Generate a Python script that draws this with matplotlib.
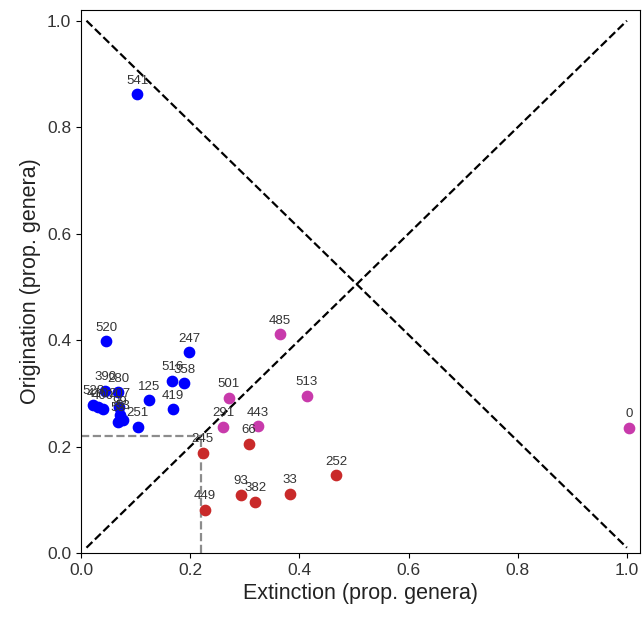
import matplotlib
matplotlib.use('Agg')
import matplotlib.pyplot as plt

plt.rcParams['font.family'] = ['Liberation Sans', 'DejaVu Sans']

# blue group
blue_x = [0.103, 0.046, 0.198, 0.167, 0.189, 0.125, 0.168, 0.104,
          0.022, 0.031, 0.040, 0.044, 0.068, 0.070, 0.071, 0.068, 0.077]
blue_y = [0.862, 0.398, 0.377, 0.323, 0.319, 0.287, 0.270, 0.237,
          0.278, 0.274, 0.270, 0.305, 0.302, 0.274, 0.259, 0.246, 0.250]
blue_lab = ['541', '520', '247', '516', '358', '125', '419', '251',
            '528', '410', '400', '390', '280', '207', '99', '58', '53']

# magenta group
mag_x = [0.364, 0.414, 0.271, 0.260, 0.324, 1.004]
mag_y = [0.411, 0.295, 0.291, 0.237, 0.238, 0.235]
mag_lab = ['485', '513', '501', '291', '443', '0']

# red group
red_x = [0.308, 0.223, 0.227, 0.293, 0.319, 0.383, 0.467]
red_y = [0.205, 0.188, 0.081, 0.109, 0.096, 0.111, 0.146]
red_lab = ['66', '245', '449', '93', '382', '33', '252']

thresh = 0.22

fig = plt.figure(figsize=(6.44, 6.17), dpi=100)
ax = fig.add_axes([0.1258, 0.1037, 0.868, 0.880])

ax.plot([0.01, 1], [0.01, 1], '--', color='black', lw=1.6)
ax.plot([0.01, 1], [1, 0.01], '--', color='black', lw=1.6)
ax.plot([0, thresh], [thresh, thresh], '--', color='gray', lw=1.6, alpha=0.9)
ax.plot([thresh, thresh], [0, thresh], '--', color='gray', lw=1.6, alpha=0.9)

groups = [(blue_x, blue_y, blue_lab, '#0000ff'),
          (mag_x, mag_y, mag_lab, '#c83aab'),
          (red_x, red_y, red_lab, '#c92a2a')]
for xs, ys, labs, c in groups:
    ax.scatter(xs, ys, s=55, color=c, zorder=3)
    for x, y, t in zip(xs, ys, labs):
        ax.annotate(t, (x, y), xytext=(0, 5.5), textcoords='offset points',
                    ha='center', va='bottom', fontsize=9.5, color='#333333')

ax.set_xlim(0, 1.024)
ax.set_ylim(0, 1.02)
ax.set_xlabel('Extinction (prop. genera)', fontsize=15.5, color='#222222')
ax.set_ylabel('Origination (prop. genera)', fontsize=15.5, color='#222222')
ax.tick_params(labelsize=12.5, labelcolor='#333333')

fig.savefig('out.png', dpi=100, facecolor='white')
